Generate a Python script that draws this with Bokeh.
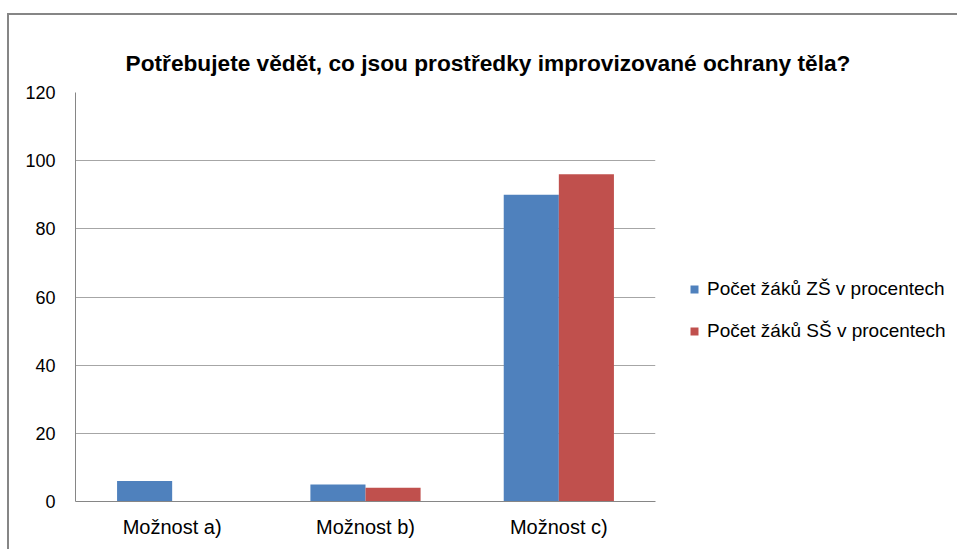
from bokeh.plotting import figure
from bokeh.models import FactorRange, Range1d, Legend, LegendItem, FixedTicker, ColumnDataSource
from bokeh.transform import dodge
from bokeh.embed import file_html
from bokeh.resources import INLINE

title_text = "Potřebujete vědět, co jsou prostředky improvizované ochrany těla?"
categories = ["Možnost a)", "Možnost b)", "Možnost c)"]
series_names = ["Počet žáků ZŠ v procentech", "Počet žáků SŠ v procentech"]
zs_values = [6, 5, 90]
ss_values = [0, 4, 96]
y_ticks = [0, 20, 40, 60, 80, 100, 120]

FONT = "Liberation Sans"
BLUE = "#4F81BD"
RED = "#C0504D"

src = ColumnDataSource(dict(cat=categories, zs=zs_values, ss=ss_values))

p = figure(
    frame_width=580, frame_height=409,
    x_range=FactorRange(*categories, range_padding=0),
    y_range=Range1d(0, 120),
    output_backend="svg", toolbar_location=None,
    min_border_left=66, min_border_right=302, min_border_top=77, min_border_bottom=48,
    title=title_text,
)
p.styles = {"border-top": "2px solid #868686", "border-left": "2px solid #868686",
            "margin-top": "13px", "margin-left": "7px"}
p.outline_line_color = None
p.background_fill_color = "white"
p.border_fill_color = "white"

p.title.text_font = FONT
p.title.text_font_size = "22.7px"
p.title.text_font_style = "bold"
p.title.text_color = "black"
p.title.align = "left"
p.title.offset = 50
p.title.standoff = 34

r1 = p.vbar(x=dodge("cat", -0.1425, range=p.x_range), top="zs", width=0.285, source=src,
            fill_color=BLUE, line_color=None)
r2 = p.vbar(x=dodge("cat", 0.1425, range=p.x_range), top="ss", width=0.285, source=src,
            fill_color=RED, line_color=None)

# axes
p.yaxis.ticker = FixedTicker(ticks=y_ticks)
p.yaxis.major_tick_line_color = None
p.yaxis.major_tick_out = 0
p.yaxis.major_tick_in = 0
p.yaxis.minor_tick_line_color = None
p.yaxis.axis_line_color = "#868686"
p.yaxis.major_label_standoff = 20
p.yaxis.major_label_text_font = FONT
p.yaxis.major_label_text_font_size = "18px"
p.yaxis.major_label_text_color = "black"

p.xaxis.major_tick_line_color = None
p.xaxis.major_tick_out = 0
p.xaxis.major_tick_in = 0
p.xaxis.minor_tick_line_color = None
p.xaxis.axis_line_color = "#868686"
p.xaxis.major_label_standoff = 14
p.xaxis.major_label_text_font = FONT
p.xaxis.major_label_text_font_size = "20px"
p.xaxis.major_label_text_color = "black"

p.xgrid.grid_line_color = None
p.ygrid.grid_line_color = "#A6A6A6"
p.ygrid.grid_line_width = 1

legend = Legend(
    items=[LegendItem(label=series_names[0], renderers=[r1]),
           LegendItem(label=series_names[1], renderers=[r2])],
    location=(34, 159),
    orientation="vertical",
    padding=0, margin=0, spacing=20,
    glyph_width=10, glyph_height=10, label_height=20, label_standoff=8,
    label_text_font=FONT, label_text_font_size="19px", label_text_color="black",
    border_line_color=None, background_fill_alpha=0,
)
p.add_layout(legend, "right")

open("out.html", "w").write(file_html(p, INLINE))
